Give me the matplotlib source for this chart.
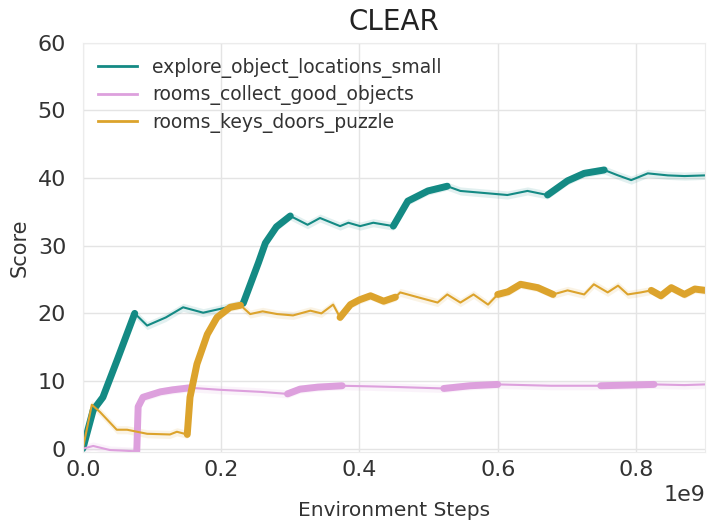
import numpy as np
import matplotlib.pyplot as plt
from matplotlib.ticker import ScalarFormatter

# steps in units of 1e9, scores read per task
explore_x = [0, 0.015, 0.029, 0.05, 0.075, 0.093, 0.12, 0.145, 0.174, 0.209, 0.232,
             0.254, 0.264, 0.28, 0.3, 0.325, 0.343, 0.372, 0.384, 0.401, 0.42, 0.449,
             0.47, 0.499, 0.527, 0.546, 0.58, 0.614, 0.643, 0.672,
             0.701, 0.725, 0.754, 0.774, 0.793, 0.817, 0.846, 0.87, 0.9]
explore_y = [0, 5.7, 7.6, 13.2, 20.0, 18.2, 19.4, 20.9, 20.1, 20.9, 21.5,
             27.5, 30.4, 32.8, 34.4, 33.1, 34.1, 32.9, 33.4, 32.9, 33.4, 32.9,
             36.6, 38.1, 38.8, 38.1, 37.8, 37.5, 38.1, 37.5,
             39.6, 40.7, 41.2, 40.4, 39.7, 40.7, 40.4, 40.3, 40.4]

collect_x = [0, 0.015, 0.039, 0.06, 0.078, 0.08, 0.087, 0.112, 0.13, 0.155,
             0.199, 0.257, 0.296, 0.314, 0.34, 0.375, 0.42, 0.459, 0.522,
             0.56, 0.6, 0.677, 0.749, 0.79, 0.826, 0.87, 0.9]
collect_y = [0, 0.4, -0.2, -0.3, -0.4, 6.2, 7.6, 8.4, 8.7, 9.0,
             8.7, 8.4, 8.1, 8.8, 9.1, 9.3, 9.2, 9.1, 8.9,
             9.3, 9.5, 9.3, 9.3, 9.4, 9.5, 9.4, 9.5]

keys_x = [0, 0.013, 0.025, 0.049, 0.064, 0.093, 0.126, 0.136, 0.151,
          0.155, 0.165, 0.18, 0.194, 0.213, 0.228,
          0.242, 0.26, 0.281, 0.304, 0.329, 0.345, 0.362, 0.372,
          0.387, 0.4, 0.416, 0.435, 0.452,
          0.459, 0.484, 0.513, 0.527, 0.546, 0.565, 0.586, 0.6,
          0.615, 0.633, 0.658, 0.68,
          0.701, 0.725, 0.739, 0.759, 0.774, 0.788, 0.807, 0.822,
          0.836, 0.851, 0.87, 0.885, 0.9]
keys_y = [0, 6.5, 5.4, 2.8, 2.8, 2.2, 2.1, 2.5, 2.1,
          7.6, 12.5, 16.9, 19.4, 20.9, 21.2,
          19.9, 20.3, 19.9, 19.7, 20.4, 20.0, 21.3, 19.4,
          21.3, 22.0, 22.6, 21.8, 22.4,
          23.1, 22.4, 21.6, 22.8, 21.6, 22.8, 21.3, 22.8,
          23.2, 24.3, 23.8, 22.8,
          23.4, 22.8, 24.3, 23.1, 24.1, 22.8, 23.1, 23.4,
          22.6, 23.8, 22.8, 23.6, 23.4]

# periods in which each task is the one being trained
explore_train = [(0, 0.075), (0.232, 0.3), (0.449, 0.527), (0.672, 0.754)]
collect_train = [(0.078, 0.155), (0.296, 0.375), (0.522, 0.6), (0.749, 0.826)]
keys_train = [(0.151, 0.228), (0.372, 0.452), (0.6, 0.68), (0.822, 0.9)]

series = [
    ("explore_object_locations_small", explore_x, explore_y, explore_train, "#148a84"),
    ("rooms_collect_good_objects", collect_x, collect_y, collect_train, "#dda0dd"),
    ("rooms_keys_doors_puzzle", keys_x, keys_y, keys_train, "#dca32c"),
]

fig = plt.figure(figsize=(7.08, 5.22), dpi=100)
ax = fig.add_axes([0.117, 0.134, 0.879, 0.784])

for name, xs, ys, train, color in series:
    xs = np.array(xs) * 1e9
    ys = np.array(ys)
    ax.fill_between(xs, ys - 0.6, ys + 0.6, color=color, alpha=0.12, lw=0)
    ax.plot(xs, ys, color=color, lw=1.5, label=name)
    # thick stretch while the task is being trained
    for a, b in train:
        m = (xs >= a * 1e9 - 1) & (xs <= b * 1e9 + 1)
        ax.plot(xs[m], ys[m], color=color, lw=5.0, solid_capstyle='round',
                solid_joinstyle='round')

ax.set_xlim(0, 0.9e9)
ax.set_ylim(-0.5, 60)
ax.set_yticks([0, 10, 20, 30, 40, 50, 60])
ax.set_xticks([0, 0.2e9, 0.4e9, 0.6e9, 0.8e9])
fmt = ScalarFormatter()
fmt.set_powerlimits((9, 9))
ax.xaxis.set_major_formatter(fmt)
ax.grid(True, color='#e4e4e4', lw=1)
ax.set_axisbelow(True)
for s in ax.spines.values():
    s.set_color('#ececec')
ax.tick_params(length=0, labelsize=16, labelcolor='#333333')
ax.tick_params(axis='y', pad=12)
ax.tick_params(axis='x', pad=6)
ax.xaxis.get_offset_text().set_fontsize(16)
ax.xaxis.get_offset_text().set_color('#333333')

ax.set_title('CLEAR', fontsize=20, color='#222222', pad=9)
ax.set_xlabel('Environment Steps', fontsize=14.5, color='#333333', labelpad=15)
ax.set_ylabel('Score', fontsize=15, color='#333333', labelpad=6)

leg = ax.legend(loc='upper left', fontsize=13.5, frameon=False, handlelength=2.1,
                handletextpad=0.8, labelspacing=0.4, borderaxespad=0.4)
for line in leg.get_lines():
    line.set_linewidth(2)
for t in leg.get_texts():
    t.set_color('#333333')

fig.savefig('out.png', dpi=100)
